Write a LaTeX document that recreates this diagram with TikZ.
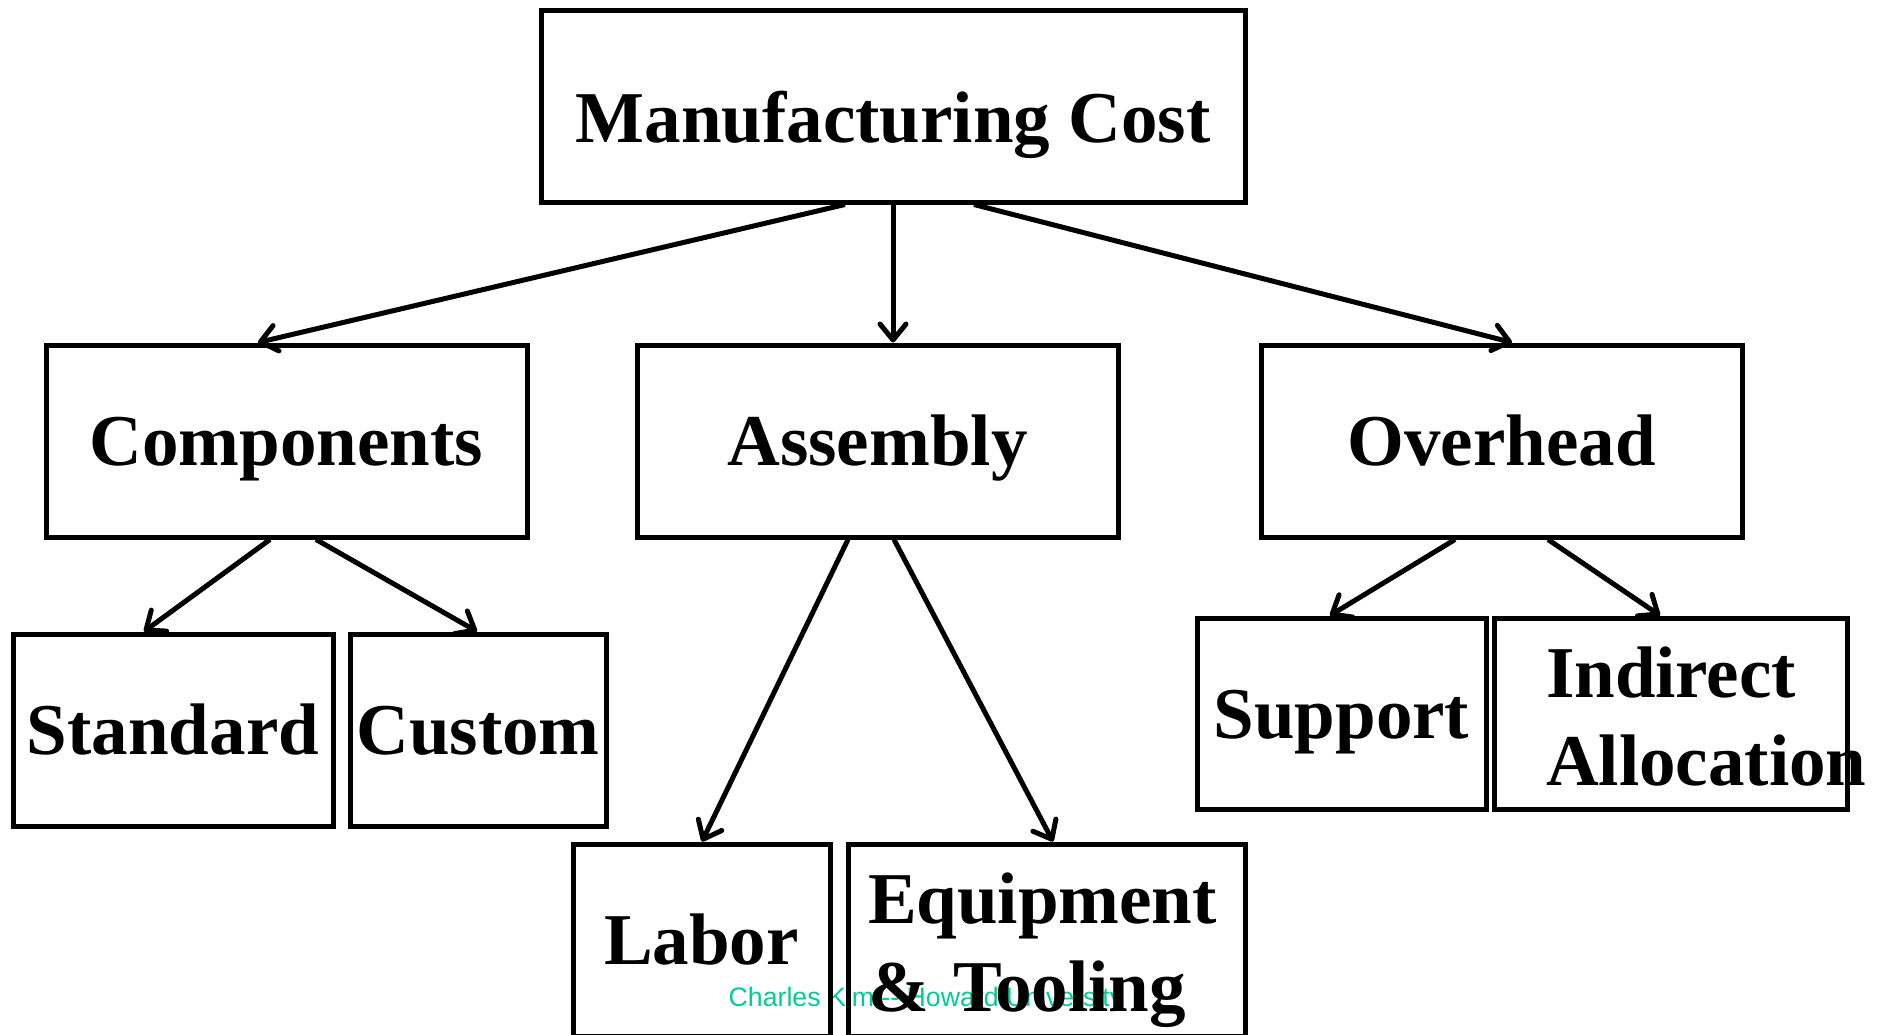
\documentclass[tikz,border=0pt]{standalone}
\usepackage{fontspec}
\setmainfont{Liberation Serif}
\newfontfamily\creditfont{Liberation Sans}
\usetikzlibrary{arrows.meta}
\definecolor{creditgreen}{RGB}{0,204,150}

\begin{document}
\begin{tikzpicture}[
      x=1pt, y=-1pt,
      box/.style={rectangle, draw, line width=5pt, minimum height=192pt, inner sep=0pt,
        font=\fontsize{73}{88}\selectfont\bfseries, text height=49pt, text depth=0pt},
      twoline/.style={align=left, text depth=82pt},
      arrow/.style={-{Straight Barb[length=16pt, width=26pt, round]}, line width=5pt}
    ]
    \useasboundingbox (0,0) rectangle (1885,1034);

    % credit line sits under the boxes
    \node[font=\creditfont\fontsize{26.7}{30}\selectfont, text=creditgreen, anchor=base] (credit) at (926,1006) {Charles Kim -- Howard University};

    \node[box, minimum width=704pt, text height=73pt] (mfg) at (893,106) {Manufacturing Cost};

    \node[box, minimum width=481pt] (comp) at (286.5,441) {Components};
    \node[box, minimum width=481pt] (asm) at (877.5,441) {Assembly};
    \node[box, minimum width=481pt] (ovh) at (1501.5,441) {Overhead};

    \node[box, minimum width=320pt] (std) at (173,730) {Standard};
    \node[box, minimum width=256pt] (cus) at (478,730) {Custom};
    \node[box, minimum width=257pt] (lab) at (701.5,940) {Labor};
    \node[box, twoline, minimum width=397pt, text width=357pt] (equ) at (1046.5,940) {Equipment\\\& Tooling};
    \node[box, minimum width=289pt, minimum height=191pt] (sup) at (1341.5,713.5) {Support};
    \node[box, twoline, minimum width=353pt, minimum height=191pt, text width=249pt] (ind) at (1670.5,713.5) {Indirect\\Allocation};

    \draw[arrow] ([xshift=-48pt]mfg.south) -- ([xshift=-28.5pt]comp.north);
    \draw[arrow] (mfg.south) -- ([xshift=15.5pt]asm.north);
    \draw[arrow] ([xshift=81pt]mfg.south) -- ([xshift=10.5pt]ovh.north);

    \draw[arrow] ([xshift=-16.5pt]comp.south) -- ([xshift=-29pt]std.north);
    \draw[arrow] ([xshift=29.5pt]comp.south) -- ([xshift=-1pt]cus.north);

    \draw[arrow] ([xshift=-29.5pt]asm.south) -- ([xshift=0.5pt]lab.north);
    \draw[arrow] ([xshift=16.5pt]asm.south) -- ([xshift=6.5pt]equ.north);

    \draw[arrow] ([xshift=-46.5pt]ovh.south) -- ([xshift=-11.5pt]sup.north);
    \draw[arrow] ([xshift=46.5pt]ovh.south) -- ([xshift=-10.5pt]ind.north);
  \end{tikzpicture}
\end{document}
